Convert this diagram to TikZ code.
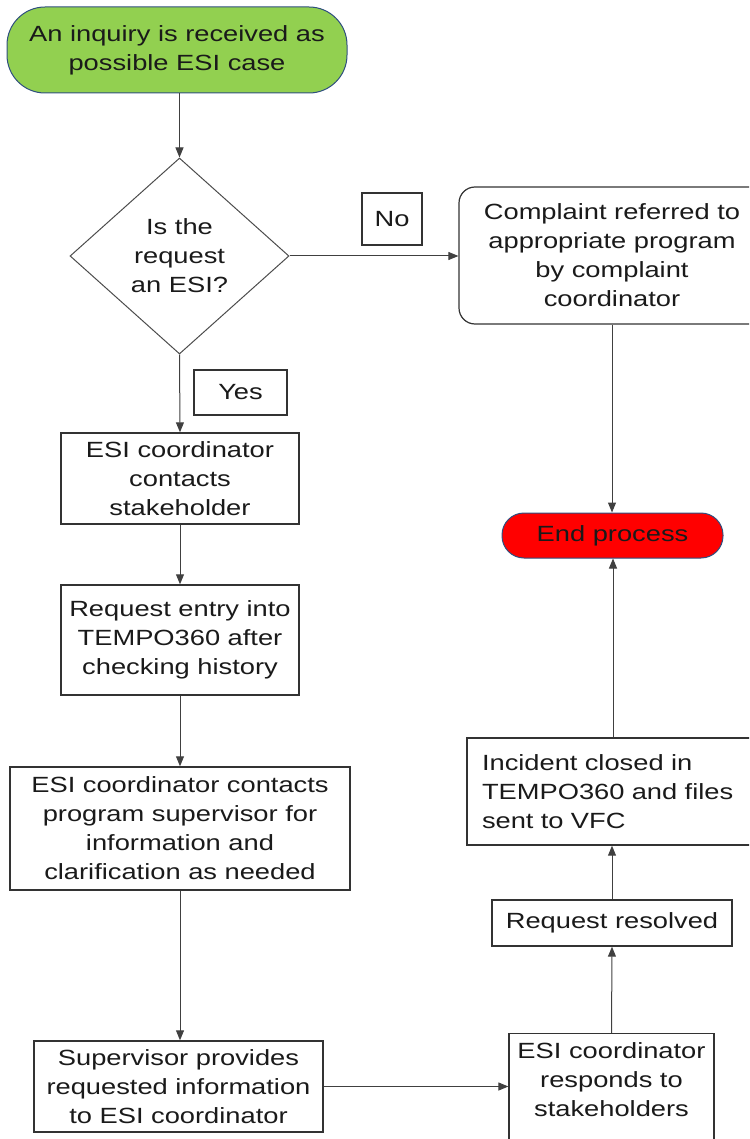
\documentclass[tikz,border=0pt]{standalone}
\usepackage{fontspec}
\setmainfont{Liberation Sans}[FakeStretch=1.24]
\usetikzlibrary{shapes.geometric,arrows.meta}
\definecolor{startgreen}{HTML}{92D050}
\definecolor{termedge}{HTML}{2F4F7F}
\definecolor{txt}{HTML}{1A1A1A}
\begin{document}
\begin{tikzpicture}[x=1pt,y=-1pt,
  every node/.style={font=\fontsize{22}{29}\selectfont, text=txt, align=center, inner sep=0pt},
  term/.style={draw=termedge, line width=1pt},
  box/.style={draw=black!80, line width=1.4pt, fill=white},
  tag/.style={draw=black!80, line width=1.2pt, fill=white},
  conn/.style={draw=black!75, line width=1pt, -{Triangle[length=10pt,width=8pt]}}
]
\useasboundingbox (0,0) rectangle (749,1139);
\clip (0,0) rectangle (749,1139);

% nodes
\node[term, fill=startgreen, rounded corners=38, minimum width=340, minimum height=86] (start) at (177,50) {An inquiry is received as\\possible ESI case};
\node[diamond, draw=black!70, line width=1pt, aspect=1.117, minimum width=219, minimum height=196] (dec) at (179.5,256) {Is the\\request\\an ESI?};
\node[tag, minimum width=60, minimum height=52] (no) at (392,219) {No};
\node[box, line width=1.2pt, rounded corners=16, minimum width=306, minimum height=137] (comp) at (612,255.5) {Complaint referred to\\appropriate program\\by complaint\\coordinator};
\node[tag, minimum width=93, minimum height=45] (yes) at (240.5,392.5) {Yes};
\node[box, minimum width=238, minimum height=91] (b1) at (180,478.5) {ESI coordinator\\contacts\\stakeholder};
\node[box, minimum width=238, minimum height=110] (b2) at (180,640) {Request entry into\\TEMPO360 after\\checking history};
\node[box, minimum width=340, minimum height=123] (b3) at (180,828.5) {ESI coordinator contacts\\program supervisor for\\information and\\clarification as needed};
\node[box, minimum width=289, minimum height=91] (b4) at (178.5,1086.5) {Supervisor provides\\requested information\\to ESI coordinator};
\node[box, line width=1.2pt, minimum width=205, minimum height=140, anchor=north] (b5) at (611.5,1033) {};
\node (b5t) at (611.5,1080) {ESI coordinator\\responds to\\stakeholders};
\node[box, minimum width=240, minimum height=46] (b6) at (612,923) {Request resolved};
\node[box, align=left, text width=262, inner xsep=15pt, minimum height=107] (b7) at (613,791.5) {Incident closed in\\TEMPO360 and files\\sent to VFC};
\node[term, fill=red, rounded corners=22, minimum width=221, minimum height=45] (end) at (612.5,535.5) {End process};

% connectors
\draw[conn] (dec.north |- start.south) -- (dec.north);
\draw[conn] (dec.east) -- (dec.east -| comp.west);
\draw[conn] (dec.south) -- (b1.north);
\draw[conn] (b1.south) -- (b2.north);
\draw[conn] (b2.south) -- (b3.north);
\draw[conn] (b3.south) -- (b3.south |- b4.north);
\draw[conn] (b4.east) -- (b4.east -| b5.west);
\draw[conn] (b5.north) -- (b6.south);
\draw[conn] (b6.north) -- (b7.south -| b6.north);
\draw[conn] (b7.north) -- (end.south -| b7.north);
\draw[conn] (comp.south) -- (end.north -| comp.south);
\end{tikzpicture}
\end{document}
